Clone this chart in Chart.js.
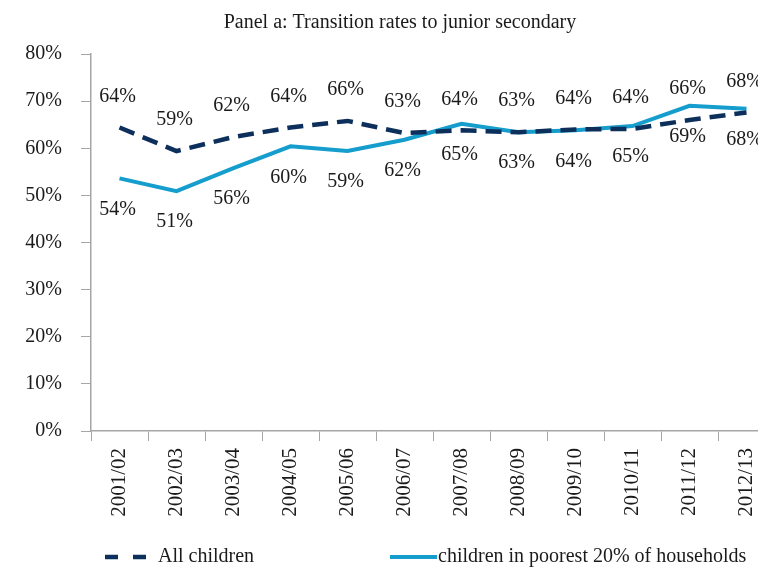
<!DOCTYPE html>
<html>
<head>
<meta charset="utf-8">
<script src="https://cdn.jsdelivr.net/npm/chart.js@4"></script>
<style>
  html, body { margin: 0; padding: 0; background: #fff; overflow: hidden; }
  #wrap { width: 790px; height: 567px; position: relative; }
</style>
</head>
<body>
<div id="wrap"><canvas id="chart"></canvas></div>
<script>
// data
const categories = ['2001/02', '2002/03', '2003/04', '2004/05', '2005/06', '2006/07',
                    '2007/08', '2008/09', '2009/10', '2010/11', '2011/12', '2012/13'];
const allChildren = [64.4, 59.4, 62.4, 64.4, 65.8, 63.2, 63.8, 63.4, 64.0, 64.1, 66.0, 67.6];
const poorest20 = [53.6, 50.9, 55.8, 60.4, 59.4, 61.8, 65.2, 63.4, 63.8, 64.7, 69.0, 68.4];
const seriesNames = ['All children', 'children in poorest 20% of households'];
const yMin = 0, yMax = 80, yStep = 10;

const FONT = '"Liberation Serif", "DejaVu Serif", serif';
const AXIS_GREY = '#a6a6a6';
const NAVY = '#0c2f5c';
const BLUE = '#149dcd';

// point labels, above / below each line
const pointLabels = {
  id: 'pointLabels',
  afterDatasetsDraw(chart) {
    const ctx = chart.ctx;
    const offsets = [-31, 31];
    ctx.save();
    ctx.font = '20px ' + FONT;
    ctx.fillStyle = '#1a1a1a';
    ctx.textAlign = 'center';
    ctx.textBaseline = 'middle';
    chart.data.datasets.forEach((ds, i) => {
      const meta = chart.getDatasetMeta(i);
      meta.data.forEach((pt, j) => {
        ctx.fillText(Math.round(ds.data[j]) + '%', pt.x - 2, pt.y + offsets[i]);
      });
    });
    ctx.restore();
  }
};

// title + line legend at the bottom
const extras = {
  id: 'extras',
  afterDraw(chart) {
    const ctx = chart.ctx;
    ctx.save();
    ctx.fillStyle = '#1a1a1a';
    ctx.textBaseline = 'middle';
    ctx.font = '20px ' + FONT;
    ctx.textAlign = 'center';
    ctx.fillText('Panel a: Transition rates to junior secondary', 400, 23);

    const y = 557;
    const slots = [{ x0: 105, x1: 146, tx: 158 }, { x0: 390, x1: 437, tx: 438 }];
    ctx.font = '20px ' + FONT;
    ctx.textAlign = 'left';
    chart.data.datasets.forEach((ds, i) => {
      const s = slots[i];
      ctx.beginPath();
      ctx.strokeStyle = ds.borderColor;
      ctx.lineWidth = ds.borderWidth;
      ctx.setLineDash(i === 0 ? [13, 15] : []);
      ctx.moveTo(s.x0, y);
      ctx.lineTo(s.x1, y);
      ctx.stroke();
      ctx.fillText(ds.label, s.tx, y);
    });
    ctx.restore();
  }
};

new Chart(document.getElementById('chart'), {
  type: 'line',
  data: {
    labels: categories,
    datasets: [
      {
        label: seriesNames[0],
        data: allChildren,
        borderColor: NAVY,
        backgroundColor: NAVY,
        borderWidth: 4.5,
        borderDash: [16, 9],
        pointRadius: 0,
        tension: 0
      },
      {
        label: seriesNames[1],
        data: poorest20,
        borderColor: BLUE,
        backgroundColor: BLUE,
        borderWidth: 4,
        pointRadius: 0,
        tension: 0
      }
    ]
  },
  options: {
    responsive: true,
    maintainAspectRatio: false,
    animation: false,
    layout: { padding: { top: 54, right: 15, bottom: 41, left: 0 } },
    plugins: {
      legend: { display: false },
      title: { display: false },
      tooltip: { enabled: false }
    },
    scales: {
      x: {
        offset: true,
        grid: { display: true, drawOnChartArea: false, drawTicks: true, tickLength: 10, color: AXIS_GREY, offset: true },
        border: { display: true, color: AXIS_GREY, width: 1.5 },
        ticks: {
          autoSkip: false, minRotation: 90, maxRotation: 90, padding: 7,
          color: '#1a1a1a', font: { family: FONT, size: 21 }
        },
        afterFit(scale) { scale.height = 95; }
      },
      y: {
        min: yMin, max: yMax,
        grid: { display: true, drawOnChartArea: false, drawTicks: true, tickLength: 10, color: AXIS_GREY },
        border: { display: true, color: AXIS_GREY, width: 1.5 },
        ticks: {
          stepSize: yStep, padding: 19, color: '#1a1a1a',
          font: { family: FONT, size: 20 },
          callback: v => v + '%'
        },
        afterFit(scale) { scale.width = 91; }
      }
    }
  },
  plugins: [pointLabels, extras]
});
</script>
</body>
</html>
